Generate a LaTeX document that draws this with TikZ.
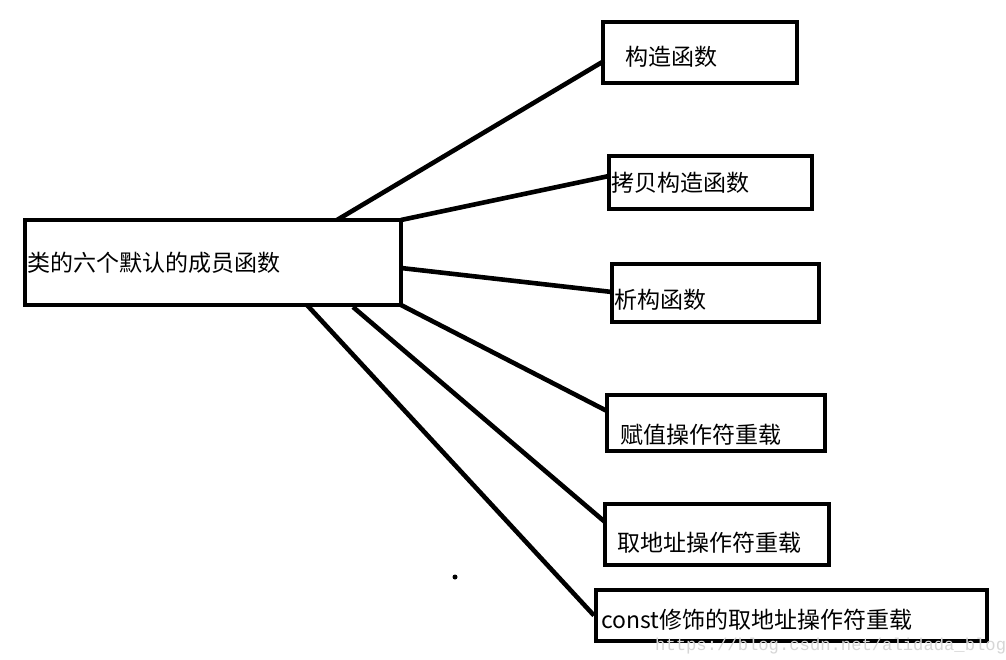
\documentclass[tikz,border=0pt]{standalone}
\usepackage{fontspec}
\setmainfont{Noto Sans CJK SC}
\newfontfamily\wmfont{Liberation Mono}
\usetikzlibrary{calc}
\begin{document}
\begin{tikzpicture}[x=1pt,y=-1pt,
  font=\fontsize{23}{27}\selectfont,
  box/.style={draw, line width=4.6pt, inner sep=0pt, outer sep=0pt},
  conn/.style={line width=4.6pt},
  lbl/.style={inner sep=0pt, anchor=west},
  wm/.style={inner sep=0pt, anchor=base west, text=black!16, font=\wmfont\fontsize{17.2}{20}\selectfont}]
\useasboundingbox[fill=white] (0,0) rectangle (1006,660);
% boxes
\node[box, minimum width=376pt, minimum height=85pt] (main) at (213,262.5) {};
\node[box, minimum width=194pt, minimum height=61pt] (b1) at (700,52.5) {};
\node[box, minimum width=203pt, minimum height=53pt] (b2) at (710.5,182.5) {};
\node[box, minimum width=207pt, minimum height=58pt] (b3) at (715.5,293) {};
\node[box, minimum width=218pt, minimum height=56pt] (b4) at (716,423) {};
\node[box, minimum width=224pt, minimum height=61pt] (b5) at (717,534.5) {};
\node[box, minimum width=391pt, minimum height=51pt] (b6) at (791.5,615.5) {};
% texts
\node[lbl] (t0) at ($(main.west)+(2,0.5)$) {类的六个默认的成员函数};
\node[lbl] (t1) at ($(b1.west)+(22,4.5)$) {构造函数};
\node[lbl] (t2) at ($(b2.west)+(2,0.5)$) {拷贝构造函数};
\node[lbl] (t3) at ($(b3.west)+(2,7)$) {析构函数};
\node[lbl] (t4) at ($(b4.west)+(13,12)$) {赋值操作符重载};
\node[lbl] (t5) at ($(b5.west)+(12,8.5)$) {取地址操作符重载};
\node[lbl] (t6) at ($(b6.west)+(5,4.5)$) {const修饰的取地址操作符重载};
% connectors
\draw[conn] ($(main.north west)+(312,0)$) -- ($(b1.west)+(1,8.5)$);
\draw[conn] (main.north east) -- ($(b2.west)+(0,-6.5)$);
\draw[conn] ($(main.east)+(0,5.5)$) -- ($(b3.west)+(0,-1)$);
\draw[conn] (main.south east) -- ($(b4.west)+(0,-12)$);
\draw[conn] ($(main.south west)+(328,2)$) -- ($(b5.west)+(0,-12.5)$);
\draw[conn] ($(main.south west)+(282,0)$) -- ($(b6.west)+(-2,0)$);
% stray dot
\node[circle, fill=black, inner sep=0pt, minimum size=5pt] (dot) at (455,577) {};
% watermark
\node[wm] (wmk) at (655,650) {https://blog.csdn.net/alidada\_blog};
\end{tikzpicture}
\end{document}
